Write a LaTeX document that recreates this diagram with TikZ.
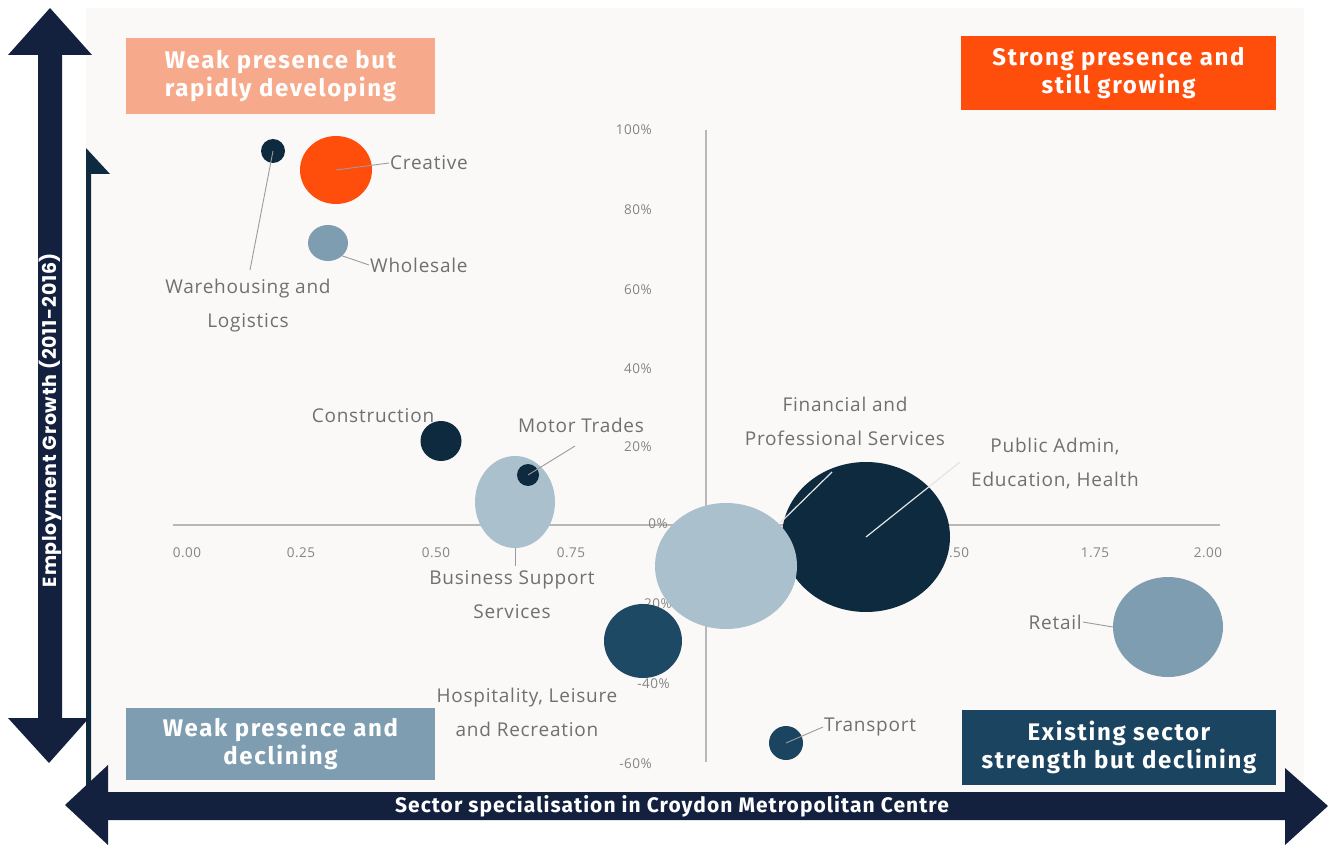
\documentclass[tikz,border=0pt]{standalone}
\usepackage{fontspec}
\setmainfont{Open Sans}[LetterSpace=4]
\newfontfamily\quadfont{Fira Sans}[LetterSpace=7]
\newfontfamily\yaxfont{Poppins}[LetterSpace=4]
\newfontfamily\xaxfont{Fira Sans}[LetterSpace=5]
\usetikzlibrary{shapes.geometric}
\definecolor{navy}{HTML}{13213F}
\definecolor{panelbg}{HTML}{FBF9F7}
\definecolor{salmon}{HTML}{F6AA8B}
\definecolor{hotorange}{HTML}{FF4D0C}
\definecolor{steel}{HTML}{7F9DB1}
\definecolor{darkteal}{HTML}{1A4460}
\definecolor{bubdark}{HTML}{0E2A3F}
\definecolor{bublight}{HTML}{AAC0CD}
\definecolor{bubmid}{HTML}{1E4965}
\definecolor{labgray}{HTML}{707070}
\definecolor{axgray}{HTML}{B8B8B8}
\tikzset{
  quadbox/.style={fill=#1, text=white, inner sep=0pt, align=center,
    font=\quadfont\bfseries\fontsize{24}{28.5}\selectfont},
  bubble/.style={ellipse, fill=#1, draw=none, inner sep=0pt},
  lab/.style={text=labgray, align=center, inner sep=1pt,
    font=\fontsize{19}{34}\selectfont},
  tick/.style={text=labgray!85, inner sep=0pt, font=\fontsize{13.5}{15}\selectfont},
  leader/.style={draw=labgray!70, line width=0.9pt},
  leaderlight/.style={draw=white!80!gray, line width=1.2pt},
  axisline/.style={draw=axgray, line width=1.6pt}
}
\begin{document}
\begin{tikzpicture}[x=1pt,y=-1pt]
\path[use as bounding box, fill=white] (0,0) rectangle (1328,845);
% chart panel
\fill[panelbg] (86,8) rectangle (1304,795);
% panel left axis line with half arrowhead
\fill[bubdark] (86,148) -- (110,174) -- (91,174) -- (91,795) -- (86,795) -- cycle;

% quadrant boxes
\node[quadbox=salmon, minimum width=309pt, minimum height=76pt] (q1) at (280.5,76) {Weak presence but\\rapidly developing};
\node[quadbox=hotorange, minimum width=315pt, minimum height=74pt] (q2) at (1118.5,73) {Strong presence and\\still growing};
\node[quadbox=steel, minimum width=309pt, minimum height=72pt] (q3) at (280.5,744) {Weak presence and\\declining};
\node[quadbox=darkteal, minimum width=314pt, minimum height=75pt] (q4) at (1119,747.5) {Existing sector\\strength but declining};

% axes
\coordinate (xa0) at (173,525);
\coordinate (xa1) at (1220,525);
\coordinate (ya0) at (706,130);
\coordinate (ya1) at (706,762);
\draw[axisline] (xa0) -- (xa1);
\draw[axisline] (ya0) -- (ya1);

% x ticks
\node[tick] (x000) at (187,553) {0.00};
\node[tick] (x025) at (301,553) {0.25};
\node[tick] (x050) at (436,553) {0.50};
\node[tick] (x075) at (571,553) {0.75};
\node[tick] (x100) at (704,553) {1.00};
\node[tick] (x125) at (830,553) {1.25};
\node[tick] (x150) at (955,553) {1.50};
\node[tick] (x175) at (1095,553) {1.75};
\node[tick] (x200) at (1208,553) {2.00};
% y ticks
\node[tick, anchor=east] (y100) at (652,130) {100\%};
\node[tick, anchor=east] (y80) at (652,210) {80\%};
\node[tick, anchor=east] (y60) at (652,290) {60\%};
\node[tick, anchor=east] (y40) at (652,369) {40\%};
\node[tick, anchor=east] (y20) at (652,447) {20\%};
\node[tick, anchor=east] (y0) at (668,524) {0\%};
\node[tick, anchor=east] (ym20) at (672,604) {-20\%};
\node[tick, anchor=east] (ym40) at (670,684) {-40\%};
\node[tick, anchor=east] (ym60) at (652,764) {-60\%};

% bubbles
\node[bubble=bubdark, minimum width=24pt, minimum height=24pt] (ware) at (273,151) {};
\node[bubble=hotorange, minimum width=72pt, minimum height=68pt] (crea) at (336,170) {};
\node[bubble=steel, minimum width=40pt, minimum height=36pt] (whol) at (328,243) {};
\node[bubble=bubdark, minimum width=41pt, minimum height=40pt] (cons) at (441,441) {};
\node[bubble=bublight, minimum width=80pt, minimum height=92pt] (busi) at (515,502) {};
\node[bubble=bubdark, minimum width=22pt, minimum height=22pt] (moto) at (528,475) {};
\node[bubble=bubdark, minimum width=168pt, minimum height=150pt] (publ) at (866,537) {};
\node[bubble=bublight, minimum width=142pt, minimum height=126pt] (fina) at (726,566) {};
\node[bubble=bubmid, minimum width=78pt, minimum height=74pt] (hosp) at (643,641) {};
\node[bubble=steel, minimum width=110pt, minimum height=100pt] (reta) at (1168,627) {};
\node[bubble=darkteal, minimum width=34pt, minimum height=34pt] (tran) at (786,743) {};

% labels
\node[lab] (lware) at (248,306) {Warehousing and\\Logistics};
\node[lab, anchor=west] (lcrea) at (389,163) {Creative};
\node[lab, anchor=west] (lwhol) at (369,265) {Wholesale};
\node[lab] (lcons) at (373,416) {Construction};
\node[lab] (lmoto) at (581,425) {Motor Trades};
\node[lab] (lbusi) at (512,595) {Business Support\\Services};
\node[lab] (lhosp) at (527,712) {Hospitality, Leisure\\and Recreation};
\node[lab] (lfina) at (845,421) {Financial and\\Professional Services};
\node[lab] (lpubl) at (1055,464) {Public Admin,\\Education, Health};
\node[lab, anchor=east] (lreta) at (1083,622) {Retail};
\node[lab, anchor=west] (ltran) at (823,727) {Transport};

% leaders
\coordinate (cware) at (250,270);
\draw[leader] (ware.center) -- (cware);
\draw[leader] (crea.center) -- (lcrea.west);
\draw[leader] (whol.south east) -- (lwhol.west);
\coordinate (cmoto) at (575,446);
\draw[leader] (moto.center) -- (cmoto);
\coordinate (cbusi) at (515,566);
\draw[leader] (busi.south) -- (cbusi);
\coordinate (cfina1) at (780,523);
\coordinate (cfina2) at (832,472);
\draw[leaderlight] (cfina1) -- (cfina2);
\coordinate (cpubl) at (960,462);
\draw[leaderlight] (publ.center) -- (cpubl);
\draw[leader] (lreta.east) -- (reta.west);
\draw[leader] (tran.center) -- (ltran.west);

% big axis arrows
\fill[navy] (50,8) -- (92,55) -- (62,55) -- (62,718) -- (89,718) -- (49,763)
  -- (8,718) -- (38,718) -- (38,55) -- (8,55) -- cycle;
\node[rotate=90, text=white, inner sep=0pt,
  font=\yaxfont\bfseries\fontsize{19}{22}\selectfont] (ylab) at (50,420) {Employment Growth (2011-2016)};
\fill[navy] (65,805) -- (108,765) -- (108,792) -- (1285,792) -- (1285,768)
  -- (1328,806) -- (1285,845) -- (1285,820) -- (108,820) -- (108,845) -- cycle;
\node[text=white, inner sep=0pt,
  font=\xaxfont\bfseries\fontsize{21}{24}\selectfont] (xlab) at (672,806) {Sector specialisation in Croydon Metropolitan Centre};
\end{tikzpicture}
\end{document}
